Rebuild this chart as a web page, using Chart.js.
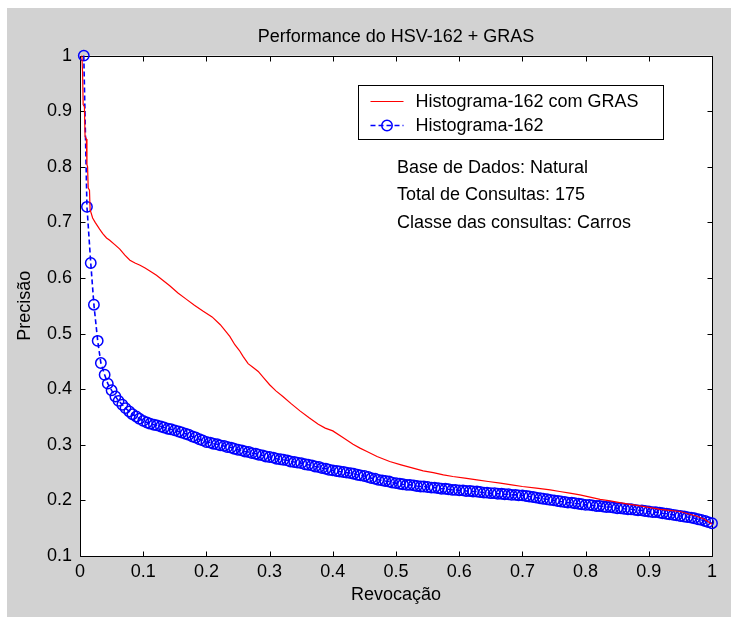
<!DOCTYPE html>
<html>
<head>
<meta charset="utf-8">
<title>Performance do HSV-162 + GRAS</title>
<script src="https://cdn.jsdelivr.net/npm/chart.js@4.4.1/dist/chart.umd.min.js"></script>
<style>
  html, body { margin: 0; padding: 0; background: #fff; }
  canvas { display: block; }
</style>
</head>
<body>
<canvas id="myLineChart" width="731" height="618"></canvas>
<script>
const chartTitle = 'Performance do HSV-162 + GRAS';
const xTitle = 'Revocação';
const yTitle = 'Precisão';
const seriesNames = ['Histograma-162 com GRAS', 'Histograma-162'];
const notes = ['Base de Dados: Natural', 'Total de Consultas: 175', 'Classe das consultas: Carros'];

const xTicks = [0, 0.1, 0.2, 0.3, 0.4, 0.5, 0.6, 0.7, 0.8, 0.9, 1];
const yTicks = [0.1, 0.2, 0.3, 0.4, 0.5, 0.6, 0.7, 0.8, 0.9, 1];

// Histograma-162 com GRAS (red line)
const redRecall = [
  0.003, 0.004, 0.005, 0.007, 0.008, 0.010, 0.011, 0.012, 0.013, 0.015,
  0.016, 0.020, 0.024, 0.031, 0.036, 0.042, 0.047, 0.055, 0.063, 0.071,
  0.079, 0.087, 0.095, 0.103, 0.113, 0.121, 0.130, 0.142, 0.155, 0.168,
  0.181, 0.195, 0.209, 0.222, 0.230, 0.237, 0.245, 0.252, 0.258, 0.266,
  0.274, 0.282, 0.291, 0.300, 0.310, 0.321, 0.334, 0.348, 0.362, 0.377,
  0.388, 0.400, 0.416, 0.432, 0.443, 0.454, 0.470, 0.490, 0.508, 0.527,
  0.543, 0.559, 0.575, 0.590, 0.609, 0.628, 0.646, 0.665, 0.683, 0.700,
  0.722, 0.744, 0.759, 0.775, 0.791, 0.807, 0.823, 0.839, 0.854, 0.870,
  0.886, 0.902, 0.918, 0.933, 0.949, 0.962, 0.975, 0.988, 1.000
];
const redPrecision = [
  1.000, 0.972, 0.912, 0.908, 0.855, 0.850, 0.804, 0.800, 0.762, 0.758,
  0.723, 0.708, 0.700, 0.688, 0.680, 0.672, 0.668, 0.660, 0.652, 0.641,
  0.632, 0.627, 0.623, 0.618, 0.611, 0.605, 0.597, 0.586, 0.573, 0.562,
  0.551, 0.540, 0.530, 0.516, 0.505, 0.495, 0.480, 0.470, 0.459, 0.446,
  0.439, 0.432, 0.420, 0.408, 0.397, 0.387, 0.374, 0.361, 0.349, 0.337,
  0.330, 0.325, 0.313, 0.301, 0.294, 0.288, 0.279, 0.270, 0.264, 0.258,
  0.253, 0.250, 0.246, 0.243, 0.240, 0.237, 0.234, 0.231, 0.228, 0.225,
  0.222, 0.219, 0.216, 0.213, 0.210, 0.206, 0.202, 0.199, 0.196, 0.193,
  0.190, 0.187, 0.184, 0.182, 0.180, 0.176, 0.172, 0.166, 0.157
];

// Histograma-162 (blue dashed with circles)
const blueRecall = [
  0.006, 0.011, 0.017, 0.022, 0.028, 0.033, 0.039, 0.044, 0.050,
  0.056, 0.061, 0.067, 0.072, 0.078, 0.083, 0.089, 0.094, 0.100,
  0.106, 0.111, 0.117, 0.122, 0.128, 0.133, 0.139, 0.144, 0.150,
  0.156, 0.161, 0.167, 0.172, 0.178, 0.183, 0.189, 0.194, 0.200,
  0.206, 0.211, 0.217, 0.222, 0.228, 0.233, 0.239, 0.244, 0.250,
  0.256, 0.261, 0.267, 0.272, 0.278, 0.283, 0.289, 0.294, 0.300,
  0.306, 0.311, 0.317, 0.322, 0.328, 0.333, 0.339, 0.344, 0.350,
  0.356, 0.361, 0.367, 0.372, 0.378, 0.383, 0.389, 0.394, 0.400,
  0.406, 0.411, 0.417, 0.422, 0.428, 0.433, 0.439, 0.444, 0.450,
  0.456, 0.461, 0.467, 0.472, 0.478, 0.483, 0.489, 0.494, 0.500,
  0.506, 0.511, 0.517, 0.522, 0.528, 0.533, 0.539, 0.544, 0.550,
  0.556, 0.561, 0.567, 0.572, 0.578, 0.583, 0.589, 0.594, 0.600,
  0.606, 0.611, 0.617, 0.622, 0.628, 0.633, 0.639, 0.644, 0.650,
  0.656, 0.661, 0.667, 0.672, 0.678, 0.683, 0.689, 0.694, 0.700,
  0.706, 0.711, 0.717, 0.722, 0.728, 0.733, 0.739, 0.744, 0.750,
  0.756, 0.761, 0.767, 0.772, 0.778, 0.783, 0.789, 0.794, 0.800,
  0.806, 0.811, 0.817, 0.822, 0.828, 0.833, 0.839, 0.844, 0.850,
  0.856, 0.861, 0.867, 0.872, 0.878, 0.883, 0.889, 0.894, 0.900,
  0.906, 0.911, 0.917, 0.922, 0.928, 0.933, 0.939, 0.944, 0.950,
  0.956, 0.961, 0.967, 0.972, 0.978, 0.983, 0.989, 0.994, 1.000
];
const bluePrecision = [
  1.000, 0.728, 0.627, 0.552, 0.487, 0.447, 0.426, 0.410, 0.398,
  0.387, 0.379, 0.372, 0.366, 0.360, 0.355, 0.351, 0.347, 0.343,
  0.340, 0.338, 0.336, 0.335, 0.333, 0.331, 0.329, 0.328, 0.326,
  0.324, 0.322, 0.320, 0.318, 0.315, 0.313, 0.310, 0.308, 0.305,
  0.304, 0.302, 0.301, 0.299, 0.298, 0.296, 0.295, 0.293, 0.291,
  0.290, 0.288, 0.287, 0.285, 0.284, 0.282, 0.281, 0.279, 0.278,
  0.277, 0.275, 0.274, 0.273, 0.272, 0.270, 0.269, 0.268, 0.267,
  0.265, 0.264, 0.263, 0.261, 0.260, 0.258, 0.257, 0.255, 0.254,
  0.253, 0.252, 0.251, 0.250, 0.249, 0.248, 0.246, 0.245, 0.244,
  0.242, 0.240, 0.239, 0.237, 0.236, 0.235, 0.234, 0.232, 0.231,
  0.230, 0.229, 0.228, 0.228, 0.227, 0.226, 0.225, 0.225, 0.224,
  0.223, 0.223, 0.222, 0.221, 0.221, 0.220, 0.219, 0.219, 0.218,
  0.218, 0.217, 0.217, 0.216, 0.216, 0.215, 0.214, 0.214, 0.213,
  0.213, 0.212, 0.212, 0.211, 0.211, 0.210, 0.210, 0.209, 0.209,
  0.208, 0.207, 0.206, 0.205, 0.204, 0.203, 0.202, 0.201, 0.200,
  0.199, 0.198, 0.197, 0.196, 0.196, 0.195, 0.194, 0.193, 0.192,
  0.192, 0.191, 0.190, 0.190, 0.189, 0.188, 0.188, 0.187, 0.186,
  0.186, 0.185, 0.184, 0.184, 0.183, 0.182, 0.182, 0.181, 0.180,
  0.179, 0.179, 0.178, 0.177, 0.176, 0.175, 0.174, 0.173, 0.172,
  0.171, 0.170, 0.169, 0.168, 0.166, 0.165, 0.163, 0.161, 0.159
];

const colors = {
  red: '#ff0000',
  blue: '#0000ff',
  figure: '#d2d2d2',
  ink: '#000000'
};
const fontFamily = "'Liberation Sans', Arial, Helvetica, sans-serif";
const fontSize = 18;

function toPoints(xs, ys) {
  return xs.map((x, i) => ({x: x, y: ys[i]}));
}

// MATLAB-like figure: grey background, boxed axes with inward ticks,
// boxed legend and a few text notes inside the axes
const matlabFigure = {
  id: 'matlabFigure',
  beforeDraw(chart) {
    const {ctx, chartArea: a} = chart;
    ctx.save();
    ctx.fillStyle = '#ffffff';
    ctx.fillRect(0, 0, chart.width, chart.height);
    ctx.fillStyle = colors.figure;
    ctx.fillRect(7, 8, chart.width - 7, chart.height - 9);
    ctx.fillStyle = '#ffffff';
    ctx.fillRect(a.left, a.top, a.right - a.left, a.bottom - a.top);
    ctx.restore();
  },
  beforeDatasetsDraw(chart) {
    const {ctx, chartArea: a, scales} = chart;
    const L = Math.round(a.left) + 0.5, R = Math.round(a.right) + 0.5;
    const T = Math.round(a.top) + 0.5, B = Math.round(a.bottom) + 0.5;
    const tl = 5;
    ctx.save();
    ctx.strokeStyle = colors.ink;
    ctx.lineWidth = 1;
    ctx.beginPath();
    ctx.rect(L, T, R - L, B - T);
    scales.x.ticks.forEach(t => {
      const px = Math.round(scales.x.getPixelForValue(t.value)) + 0.5;
      ctx.moveTo(px, B); ctx.lineTo(px, B - tl);
      ctx.moveTo(px, T); ctx.lineTo(px, T + tl);
    });
    scales.y.ticks.forEach(t => {
      const py = Math.round(scales.y.getPixelForValue(t.value)) + 0.5;
      ctx.moveTo(L, py); ctx.lineTo(L + tl, py);
      ctx.moveTo(R, py); ctx.lineTo(R - tl, py);
    });
    ctx.stroke();
    ctx.restore();
  },
  afterDraw(chart) {
    const {ctx, chartArea: a} = chart;
    const ds = chart.data.datasets;
    ctx.save();
    ctx.font = fontSize + 'px ' + fontFamily;
    ctx.textBaseline = 'middle';
    ctx.textAlign = 'left';

    // legend box
    const bx = Math.round(a.left + 278) + 0.5, by = Math.round(a.top + 29) + 0.5;
    const bw = 305, bh = 54;
    ctx.fillStyle = '#ffffff';
    ctx.fillRect(bx, by, bw, bh);
    ctx.strokeStyle = colors.ink;
    ctx.lineWidth = 1;
    ctx.strokeRect(bx, by, bw, bh);

    const rows = [16, 40];
    ds.forEach((d, i) => {
      const y = by + rows[i];
      ctx.strokeStyle = d.borderColor;
      ctx.lineWidth = d.borderWidth;
      ctx.setLineDash(d.borderDash || []);
      ctx.beginPath();
      ctx.moveTo(bx + 12, y);
      ctx.lineTo(bx + 45, y);
      ctx.stroke();
      ctx.setLineDash([]);
      if (d.pointRadius > 0) {
        ctx.lineWidth = d.pointBorderWidth;
        ctx.beginPath();
        ctx.arc(bx + 28.5, y, d.pointRadius, 0, Math.PI * 2);
        ctx.stroke();
      }
      ctx.fillStyle = colors.ink;
      ctx.fillText(d.label, bx + 57, y + 1);
    });

    // notes
    ctx.fillStyle = colors.ink;
    notes.forEach((n, i) => {
      ctx.fillText(n, a.left + 317, a.top + 112 + i * 27.5);
    });
    ctx.restore();
  }
};

function setupLineChart() {
  Chart.defaults.font.family = fontFamily;
  Chart.defaults.font.size = fontSize;
  Chart.defaults.color = colors.ink;

  const ctx = document.getElementById('myLineChart').getContext('2d');

  new Chart(ctx, {
    type: 'line',
    data: {
      datasets: [{
        label: seriesNames[0],
        data: toPoints(redRecall, redPrecision),
        borderColor: colors.red,
        borderWidth: 1.2,
        pointRadius: 0,
        tension: 0,
        fill: false,
        clip: false
      }, {
        label: seriesNames[1],
        data: toPoints(blueRecall, bluePrecision),
        borderColor: colors.blue,
        borderWidth: 1.6,
        borderDash: [5, 3],
        pointRadius: 5.2,
        pointBorderWidth: 1.5,
        pointBorderColor: colors.blue,
        pointBackgroundColor: 'rgba(0,0,0,0)',
        tension: 0,
        fill: false,
        clip: false
      }]
    },
    options: {
      responsive: false,
      animation: false,
      events: [],
      layout: {
        padding: {left: 0, right: 19, top: 0, bottom: 0}
      },
      plugins: {
        legend: {display: false},
        tooltip: {enabled: false},
        title: {
          display: true,
          text: chartTitle,
          fullSize: false,
          color: colors.ink,
          font: {size: fontSize, weight: 'normal', lineHeight: 1.2},
          padding: {top: 26, bottom: 8}
        }
      },
      scales: {
        x: {
          type: 'linear',
          position: 'bottom',
          min: 0,
          max: 1,
          grid: {display: false, drawTicks: false},
          border: {display: false},
          afterBuildTicks: (scale) => { scale.ticks = xTicks.map(v => ({value: v})); },
          afterFit: (scale) => { scale.height = 62; },
          ticks: {
            autoSkip: false,
            maxRotation: 0,
            padding: 5,
            color: colors.ink,
            callback: (v) => String(v)
          },
          title: {
            display: true,
            text: xTitle,
            color: colors.ink,
            font: {size: fontSize, lineHeight: 1.2},
            padding: {top: 0, bottom: 12}
          }
        },
        y: {
          type: 'linear',
          position: 'left',
          min: 0.1,
          max: 1,
          grid: {display: false, drawTicks: false},
          border: {display: false},
          afterBuildTicks: (scale) => { scale.ticks = yTicks.map(v => ({value: v})); },
          afterFit: (scale) => { scale.width = 80; },
          ticks: {
            autoSkip: false,
            padding: 8,
            color: colors.ink,
            callback: (v) => String(v)
          },
          title: {
            display: true,
            text: yTitle,
            color: colors.ink,
            font: {size: fontSize, lineHeight: 1.2},
            padding: {top: 14, bottom: 0}
          }
        }
      }
    },
    plugins: [matlabFigure]
  });
}

setupLineChart();
</script>
</body>
</html>
